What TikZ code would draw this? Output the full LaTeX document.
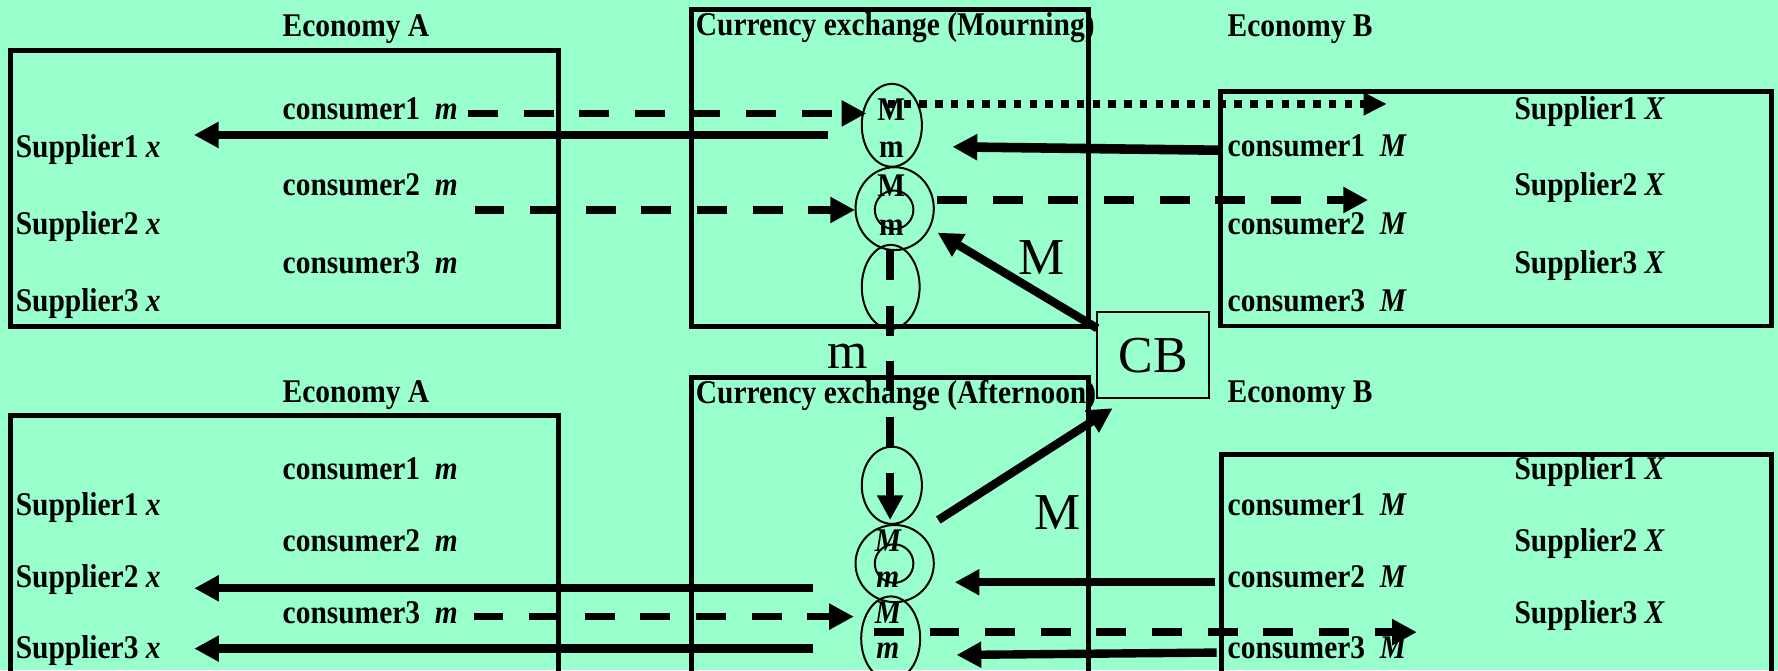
\documentclass[tikz,border=0pt]{standalone}
\usepackage{fontspec}
\usepackage{graphicx}
\setmainfont{Liberation Serif}
\usetikzlibrary{arrows.meta,shapes.geometric}
\definecolor{bg}{HTML}{99FFCC}
\newcommand\tb[1]{\scalebox{0.89}[1]{\fontsize{8.3}{9.8}\selectfont\bfseries #1}}
\begin{document}
\begin{tikzpicture}[x=0.01cm,y=-0.01cm,
 lbl/.style={anchor=base west,inner sep=0pt},
 ctr/.style={anchor=base,inner sep=0pt},
 big/.style={inner sep=0pt,font=\fontsize{13}{15}\selectfont},
 frame/.style={draw,line width=1.25pt},
 ell/.style={draw,ellipse,line width=0.5pt,inner sep=0pt},
 tip/.style={-{Triangle[length=6.2pt,width=6.2pt]}},
 solidarr/.style={tip,line width=2.1pt},
 dasharr/.style={tip,line width=1.9pt,dash pattern=on 7.5pt off 6.45pt},
 dotarr/.style={-{Triangle[length=5.8pt,width=5.4pt]},line width=2pt,dash pattern=on 1.9pt off 2.05pt},
]
\clip (0,0) rectangle (1568,591);
\fill[bg] (0,0) rectangle (1568,591);

% frames
\draw[frame] (9.5,44.7) rectangle (492.6,288);
\draw[frame] (610,8.8) rectangle (960,288);
\draw[frame] (1076.5,80.8) rectangle (1562.6,287.5);
\draw[frame] (9.5,366.8) rectangle (492.6,620);
\draw[frame] (610,333) rectangle (960,620);
\draw[frame] (1077,400.4) rectangle (1562.6,620);

% CB
\node[draw,line width=0.5pt,minimum width=0.988cm,minimum height=0.758cm,inner sep=0pt,font=\fontsize{13}{15}\selectfont] (cb) at (1017,313.3) {CB};

% headers
\node[lbl] (ecoA1) at (248.6,32.3) {\tb{Economy A}};
\node[lbl] (cxm) at (613,31.7) {\tb{Currency exchange (Mourning)}};
\node[lbl] (ecoB1) at (1082,32.3) {\tb{Economy B}};
\node[lbl] (ecoA2) at (248.6,355) {\tb{Economy A}};
\node[lbl] (cxa) at (613,355.5) {\tb{Currency exchange (Afternoon)}};
\node[lbl] (ecoB2) at (1082,355) {\tb{Economy B}};

% economy A top
\node[lbl] (ac1) at (248.6,105.5) {\tb{consumer1\ \ \textit{m}}};
\node[lbl] (as1) at (13.2,138.5) {\tb{Supplier1 \textit{x}}};
\node[lbl] (ac2) at (248.6,172.8) {\tb{consumer2\ \ \textit{m}}};
\node[lbl] (as2) at (13.2,207) {\tb{Supplier2 \textit{x}}};
\node[lbl] (ac3) at (248.6,241.6) {\tb{consumer3\ \ \textit{m}}};
\node[lbl] (as3) at (13.2,275) {\tb{Supplier3 \textit{x}}};
% economy B top
\node[lbl] (bs1) at (1335,105.2) {\tb{Supplier1 \textit{X}}};
\node[lbl] (bc1) at (1082,138.2) {\tb{consumer1\ \ \textit{M}}};
\node[lbl] (bs2) at (1335,172.8) {\tb{Supplier2 \textit{X}}};
\node[lbl] (bc2) at (1082,207) {\tb{consumer2\ \ \textit{M}}};
\node[lbl] (bs3) at (1335,241.6) {\tb{Supplier3 \textit{X}}};
\node[lbl] (bc3) at (1082,275) {\tb{consumer3\ \ \textit{M}}};
% economy A bottom
\node[lbl] (ac1b) at (248.6,422.7) {\tb{consumer1\ \ \textit{m}}};
\node[lbl] (as1b) at (13.2,454.7) {\tb{Supplier1 \textit{x}}};
\node[lbl] (ac2b) at (248.6,486.5) {\tb{consumer2\ \ \textit{m}}};
\node[lbl] (as2b) at (13.2,518) {\tb{Supplier2 \textit{x}}};
\node[lbl] (ac3b) at (248.6,549.7) {\tb{consumer3\ \ \textit{m}}};
\node[lbl] (as3b) at (13.2,580.5) {\tb{Supplier3 \textit{x}}};
% economy B bottom
\node[lbl] (bs1b) at (1335,422.7) {\tb{Supplier1 \textit{X}}};
\node[lbl] (bc1b) at (1082,454.7) {\tb{consumer1\ \ \textit{M}}};
\node[lbl] (bs2b) at (1335,486.5) {\tb{Supplier2 \textit{X}}};
\node[lbl] (bc2b) at (1082,518) {\tb{consumer2\ \ \textit{M}}};
\node[lbl] (bs3b) at (1335,549.7) {\tb{Supplier3 \textit{X}}};
\node[lbl] (bc3b) at (1082,580.5) {\tb{consumer3\ \ \textit{M}}};

% ellipses top
\node[ell,minimum width=0.53cm,minimum height=0.73cm] (e1) at (786.5,110.5) {};
\node[ell,minimum width=0.69cm,minimum height=0.73cm] (e2) at (789,184) {};
\node[ell,minimum width=0.34cm,minimum height=0.34cm] (e2i) at (788.5,185) {};
\node[ell,minimum width=0.51cm,minimum height=0.74cm] (e3) at (785.5,253) {};
% ellipses bottom
\node[ell,minimum width=0.53cm,minimum height=0.68cm] (f1) at (786.5,428) {};
\node[ell,minimum width=0.69cm,minimum height=0.68cm] (f2) at (789,497) {};
\node[ell,minimum width=0.34cm,minimum height=0.34cm] (f2i) at (788.5,497) {};
\node[ell,minimum width=0.52cm,minimum height=0.74cm] (f3) at (785.5,563) {};

% ellipse texts
\node[ctr] (tM1) at (786,106) {\tb{M}};
\node[ctr] (tm1) at (786,139.3) {\tb{m}};
\node[ctr] (tM2) at (786,173) {\tb{M}};
\node[ctr] (tm2) at (786,208) {\tb{m}};
\node[ctr] (uM1) at (783,486.5) {\tb{\itshape M}};
\node[ctr] (um1) at (783,518) {\tb{\itshape m}};
\node[ctr] (uM2) at (783,549.7) {\tb{\itshape M}};
\node[ctr] (um2) at (783,580.5) {\tb{\itshape m}};

% big labels
\node[big] (lM1) at (918.5,227) {M};
\node[big] (lm) at (747.5,314) {m};
\node[big] (lM2) at (933,452) {M};

% coordinates
\coordinate (p1s) at (412.7,100);   \coordinate (p1e) at (764,100);
\coordinate (p2s) at (730,119);     \coordinate (p2e) at (171,119);
\coordinate (p3s) at (783,91.7);    \coordinate (p3e) at (1223,91.7);
\coordinate (p4s) at (1076,132.5);  \coordinate (p4e) at (840,129.5);
\coordinate (p5s) at (418.5,185.2); \coordinate (p5e) at (754,185.2);
\coordinate (p6s) at (826.5,176.4); \coordinate (p6e) at (1206.5,176.4);
\coordinate (p7s) at (967.6,289.5); \coordinate (p7e) at (826.9,205.2);
\coordinate (p8s) at (785,220.5);   \coordinate (p8e) at (785,458.6);
\coordinate (q1s) at (717.3,518.8); \coordinate (q1e) at (171.3,518.8);
\coordinate (q2s) at (717.3,572);   \coordinate (q2e) at (171.3,572);
\coordinate (q3s) at (417.6,543.8); \coordinate (q3e) at (753,543.8);
\coordinate (q4s) at (1071.5,513.5);\coordinate (q4e) at (842,513.5);
\coordinate (q5s) at (1073,575.5);  \coordinate (q5e) at (843.6,577.6);
\coordinate (q6s) at (770.7,557.5); \coordinate (q6e) at (1249.5,557.5);
\coordinate (q7s) at (827.5,458.6); \coordinate (q7e) at (981.2,360);

% connectors
\draw[dasharr] (p1s) -- (p1e);
\draw[solidarr] (p2s) -- (p2e);
\draw[dotarr] (p3s) -- (p3e);
\draw[solidarr,line width=2.4pt] (p4s) -- (p4e);
\draw[dasharr] (p5s) -- (p5e);
\draw[dasharr] (p6s) -- (p6e);
\draw[solidarr] (p7s) -- (p7e);
\draw[dasharr] (p8s) -- (p8e);
\draw[solidarr] (q1s) -- (q1e);
\draw[solidarr] (q2s) -- (q2e);
\draw[dasharr] (q3s) -- (q3e);
\draw[solidarr] (q4s) -- (q4e);
\draw[solidarr] (q5s) -- (q5e);
\draw[dasharr] (q6s) -- (q6e);
\draw[solidarr] (q7s) -- (q7e);
\end{tikzpicture}
\end{document}
